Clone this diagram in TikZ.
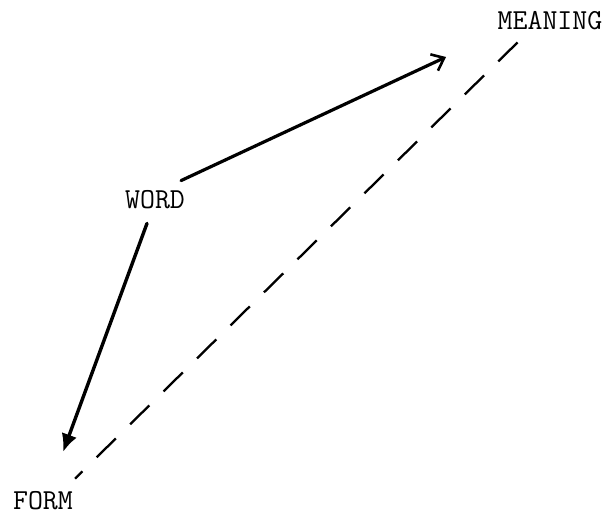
\documentclass[tikz,border=0pt]{standalone}
\usetikzlibrary{arrows.meta}
\tikzset{
  label/.style={font=\ttfamily\fontsize{29}{32}\selectfont, inner sep=0pt},
  link/.style={line width=3.2pt, line cap=round},
}
\begin{document}
\begin{tikzpicture}[x=1pt,y=-1pt]
  \useasboundingbox (0,0) rectangle (611,517);
  \node[label] (word) at (155,200) {WORD};
  \node[label] (meaning) at (550,21) {MEANING};
  \node[label] (form) at (43,501) {FORM};
  \coordinate (meaning-in) at (446,57);
  \coordinate (form-in) at (63,452);
  \draw[link,-{Straight Barb[length=11pt,width=18pt,line width=2.6pt]}] ([shift={(-4,-10)}]word.north east) -- (meaning-in);
  \draw[link,line width=3.4pt,-{Latex[length=18pt,width=16pt]}] ([shift={(-8,14)}]word.south) -- (form-in);
  \draw[line width=2.3pt,dash pattern=on 27pt off 20pt] ([shift={(20,12)}]meaning.south west) -- ([shift={(2,-13)}]form.north east);
\end{tikzpicture}
\end{document}
